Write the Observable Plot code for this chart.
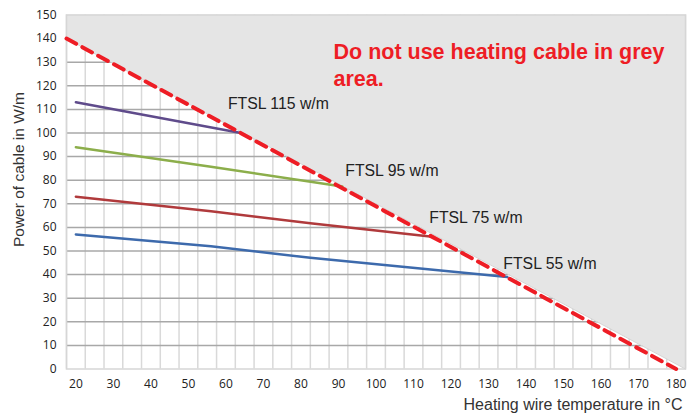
<!DOCTYPE html>
<html><head><meta charset="utf-8">
<script src="https://cdn.jsdelivr.net/npm/d3@7"></script>
<script src="https://cdn.jsdelivr.net/npm/@observablehq/plot@0.6"></script>
<style>
body{margin:0;background:#fff}
#chart svg{display:block}
</style>
</head><body><div id="chart"></div>
<script>
// ---- data ----
const seriesNames = ["FTSL 115 w/m", "FTSL 95 w/m", "FTSL 75 w/m", "FTSL 55 w/m"];
const seriesColors = ["#5f4b8b", "#8cae4b", "#b03a3c", "#3d6aac"];
const ftsl115Temp = [20, 64];
const ftsl115Power = [113, 100];
const ftsl95Temp = [20, 56, 91];
const ftsl95Power = [94, 85.7, 77.3];
const ftsl75Temp = [20, 56, 82.5, 115];
const ftsl75Power = [73, 66.8, 61.8, 56];
const ftsl55Temp = [20, 56, 82.5, 135];
const ftsl55Power = [57, 52, 47.1, 39];
const limitTemp = [17.5, 180];      // red dashed max line
const limitPower = [140, 0];
const greyTemp = [17.5, 182.5];     // edge of grey area
const greyPower = [140, 0];
const xTicks = [20, 30, 40, 50, 60, 70, 80, 90, 100, 110, 120, 130, 140, 150, 160, 170, 180];
const yTicks = [0, 10, 20, 30, 40, 50, 60, 70, 80, 90, 100, 110, 120, 130, 140, 150];
const xGrid = d3.range(17.5, 183, 5);
const warning = "Do not use heating cable in grey\narea.";
const xTitle = "Heating wire temperature in °C";
const yTitle = "Power of cable in W/m";

// ---- build tables ----
const seriesTemp = [ftsl115Temp, ftsl95Temp, ftsl75Temp, ftsl55Temp];
const seriesPower = [ftsl115Power, ftsl95Power, ftsl75Power, ftsl55Power];
const series = seriesNames.map((name, i) => ({
  name, color: seriesColors[i],
  points: seriesTemp[i].map((t, j) => ({t, p: seriesPower[i][j]}))
}));
const limit = limitTemp.map((t, i) => ({t, p: limitPower[i]}));
const grey = greyTemp.map((t, i) => ({t, p: greyPower[i]}));
const labelOffsets = [[-13, -29], [3, -16], [-3, -19], [-4, -13]];

const font = "'Liberation Sans', Arial, sans-serif";

const marks = [
  Plot.ruleX(xGrid, {stroke: "#d9d9d9", strokeWidth: 1.5}),
  Plot.ruleY(yTicks.filter(v => v > 0 && v < 150), {stroke: "#a8a8a8", strokeWidth: 1.5}),
  Plot.areaY(grey, {x: "t", y1: "p", y2: 150, fill: "#e5e5e5"}),
  Plot.line(grey, {x: "t", y: "p", stroke: "#d4d4d4", strokeWidth: 1}),
  Plot.frame({stroke: "#d6d6d6", strokeWidth: 1.5}),
  Plot.axisX(xTicks, {tickSize: 0, tickPadding: 10, fontSize: 12, fill: "#222", fontFamily: "'Open Sans', sans-serif", label: null}),
  Plot.axisY(yTicks, {tickSize: 0, tickPadding: 10, fontSize: 12, fill: "#222", fontFamily: "'Open Sans', sans-serif", label: null})
];
series.forEach((s, i) => {
  marks.push(Plot.line(s.points, {x: "t", y: "p", stroke: s.color, strokeWidth: 2.5}));
});
marks.push(Plot.line(limit, {x: "t", y: "p", stroke: "#ee1d25", strokeWidth: 4, strokeDasharray: "11,7"}));
series.forEach((s, i) => {
  const last = s.points[s.points.length - 1];
  marks.push(Plot.text([last], {x: "t", y: "p", text: () => s.name, textAnchor: "start",
    dx: labelOffsets[i][0], dy: labelOffsets[i][1], fontSize: 15.8, fill: "#222", fontFamily: font}));
});
marks.push(Plot.text([warning], {frameAnchor: "top-left", textAnchor: "start", lineAnchor: "top",
  dx: 267, dy: 25, fontSize: 21.5, fontWeight: "bold", fill: "#ee1d25", lineHeight: 1.24, fontFamily: font}));
marks.push(Plot.text([xTitle], {frameAnchor: "bottom-right", textAnchor: "end", lineAnchor: "middle",
  dx: -3, dy: 36, fontSize: 16, fill: "#333", fontFamily: font}));
marks.push(Plot.text([yTitle], {frameAnchor: "left", textAnchor: "middle", lineAnchor: "middle", rotate: -90,
  dx: -47, dy: -22.5, fontSize: 15.5, fill: "#333", fontFamily: font}));

const chart = Plot.plot({
  width: 698, height: 415,
  marginLeft: 66, marginRight: 13, marginTop: 14.5, marginBottom: 46.5,
  x: {domain: [17.5, 182.5]},
  y: {domain: [0, 150]},
  style: {background: "#fff", overflow: "visible"},
  marks
});
document.getElementById("chart").appendChild(chart);
</script>
</body></html>
